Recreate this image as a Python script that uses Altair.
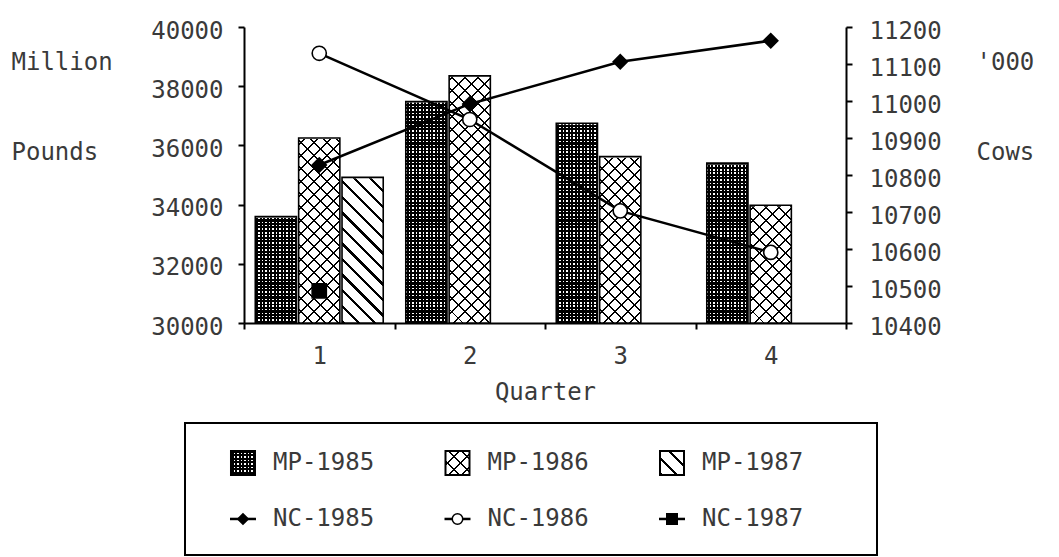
import math

import altair as alt
import pandas as pd

# ---- data -------------------------------------------------------------
quarters = [1, 2, 3, 4]

milk_series = ["MP-1985", "MP-1986", "MP-1987"]
mp_1985 = [33600, 37480, 36750, 35400]
mp_1986 = [36250, 38350, 35620, 33980]
mp_1987 = [34920]

cow_series = ["NC-1985", "NC-1986", "NC-1987"]
nc_1985 = [10827, 10992, 11106, 11163]
nc_1986 = [11129, 10950, 10703, 10591]
nc_1987 = [10487]

pounds_ticks = [30000, 32000, 34000, 36000, 38000, 40000]
cows_ticks = [10400, 10500, 10600, 10700, 10800, 10900, 11000, 11100, 11200]

milk = pd.DataFrame(
    [
        {"Quarter": q, "series": s, "pounds": v}
        for s, vals in zip(milk_series, [mp_1985, mp_1986, mp_1987])
        for q, v in zip(quarters, vals)
    ]
)
cows = pd.DataFrame(
    [
        {"Quarter": q, "series": s, "cows": v}
        for s, vals in zip(cow_series, [nc_1985, nc_1986, nc_1987])
        for q, v in zip(quarters, vals)
    ]
)
legend_items = pd.DataFrame(
    [
        {"label": lab, "col": i % 3, "row": i // 3}
        for i, lab in enumerate(milk_series + cow_series)
    ]
)

# ---- style ------------------------------------------------------------
FONT = "DejaVu Sans Mono"
FS = 24
INK = "#3a3a3a"
PLOT_W, PLOT_H = 602, 296
OFF_INNER, OFF_OUTER = 0.05, 0.26
LEGEND_INDENT = 59  # legend box starts this far left of the plot area

band = PLOT_W / len(quarters)
slot = band / (len(milk_series) - OFF_INNER + 2 * OFF_OUTER)
BAR_W = slot * (1 - OFF_INNER)
SWATCH = 24
CLEAR = "rgba(0,0,0,0)"


def hatch(kind, w, h, period, line_w, gap, phase=0.0):
    """Striped linear gradient laid over a w x h box (bounding-box units)."""
    if kind == "h":
        x1, y1, x2, y2, span = 0, 0, 0, 1, h
    elif kind == "v":
        x1, y1, x2, y2, span = 0, 0, 1, 0, w
    else:
        c = (w + h) / (w * w + h * h)
        span = (w + h) / math.sqrt(2)
        if kind == "down":  # lines running top-left to bottom-right
            x1, y1, x2, y2 = 0, 1, c * w, 1 - c * h
        else:  # lines running bottom-left to top-right
            x1, y1, x2, y2 = 0, 0, c * w, c * h
    stops = [{"offset": 0, "color": gap}]
    pos = phase
    while pos < span:
        a = pos / span
        b = min(pos + line_w, span) / span
        d = min(pos + period, span) / span
        stops += [
            {"offset": a, "color": gap},
            {"offset": a, "color": "black"},
            {"offset": b, "color": "black"},
            {"offset": b, "color": gap},
            {"offset": d, "color": gap},
        ]
        pos += period
    return {"gradient": "linear", "x1": x1, "y1": y1, "x2": x2, "y2": y2, "stops": stops}


def fills(w, h):
    return {
        "dots_base": hatch("v", w, h, 3.5, 2.0, "white", phase=1.0),
        "dots_over": hatch("h", w, h, 3.5, 2.0, CLEAR),
        "cross_base": hatch("down", w, h, 9.2, 1.3, "white"),
        "cross_over": hatch("up", w, h, 9.2, 1.3, CLEAR),
        "slant": hatch("down", w, h, 11.0, 2.4, "white"),
    }


bar_fill = fills(BAR_W, PLOT_H)
swatch_fill = fills(SWATCH, SWATCH)

# ---- shared encodings -------------------------------------------------
x_enc = alt.X(
    "Quarter:O",
    scale=alt.Scale(domain=quarters, paddingInner=0, paddingOuter=0),
    axis=alt.Axis(
        title="Quarter",
        labelAngle=0,
        tickBand="extent",
        tickSize=6,
        tickWidth=2,
        tickColor="black",
        domainColor="black",
        domainWidth=2,
        labelPadding=15,
        titleX=PLOT_W / 2,
        titleY=57,
        titleAlign="center",
        titleBaseline="top",
    ),
)
off_enc = alt.XOffset(
    "series:N",
    scale=alt.Scale(domain=milk_series, paddingInner=OFF_INNER, paddingOuter=OFF_OUTER),
)

pounds_scale = alt.Scale(domain=[30000, 40000], zero=False, nice=False)
pounds_axis = alt.Axis(
    values=pounds_ticks,
    format="d",
    tickSize=6,
    tickWidth=2,
    tickColor="black",
    domainColor="black",
    domainWidth=2,
    labelPadding=15,
    labelOffset=4,
    labelOverlap=False,
    title=["Million", "Pounds"],
    titleAngle=0,
    titleAlign="left",
    titleBaseline="top",
    titleX=-233,
    titleY=23,
    titleLineHeight=90,
)
cows_scale = alt.Scale(domain=[10400, 11200], zero=False, nice=False)
cows_axis = alt.Axis(
    orient="right",
    values=cows_ticks,
    format="d",
    tickSize=6,
    tickWidth=2,
    tickColor="black",
    domainColor="black",
    domainWidth=2,
    labelPadding=17,
    labelOffset=4,
    labelOverlap=False,
    title=["'000", "Cows"],
    titleAngle=0,
    titleAlign="left",
    titleBaseline="top",
    titleX=130,
    titleY=23,
    titleLineHeight=90,
)

y_full = alt.YDatum(40000, type="quantitative", scale=pounds_scale, axis=pounds_axis)
y_value = alt.Y("pounds:Q", scale=pounds_scale, axis=pounds_axis)


def pattern_layer(series, key):
    return (
        alt.Chart(milk)
        .transform_filter(alt.datum.series == series)
        .mark_bar(fill=bar_fill[key], strokeWidth=0)
        .encode(x=x_enc, xOffset=off_enc, y=y_full, y2=alt.Y2Datum(30000))
    )


bars = alt.layer(
    pattern_layer("MP-1985", "dots_base"),
    pattern_layer("MP-1985", "dots_over"),
    pattern_layer("MP-1986", "cross_base"),
    pattern_layer("MP-1986", "cross_over"),
    pattern_layer("MP-1987", "slant"),
    # blank out the pattern above each bar's value
    alt.Chart(milk)
    .mark_bar(fill="white", stroke="white", strokeWidth=2)
    .encode(x=x_enc, xOffset=off_enc, y=y_value, y2=alt.Y2Datum(40000)),
    # bar outlines
    alt.Chart(milk)
    .mark_bar(fillOpacity=0, stroke="black", strokeWidth=1.6)
    .encode(x=x_enc, xOffset=off_enc, y=y_value, y2=alt.Y2Datum(30000)),
)

y_cows = alt.Y("cows:Q", scale=cows_scale, axis=cows_axis)
shape_scale = alt.Scale(domain=cow_series, range=["diamond", "circle", "square"])
fill_scale = alt.Scale(domain=cow_series, range=["black", "white", "black"])

lines = alt.layer(
    alt.Chart(cows)
    .mark_line(color="black", strokeWidth=2.5)
    .encode(x=x_enc, y=y_cows, detail="series:N"),
    alt.Chart(cows)
    .mark_point(filled=True, size=200, stroke="black", strokeWidth=1.6, opacity=1)
    .encode(
        x=x_enc,
        y=y_cows,
        shape=alt.Shape("series:N", scale=shape_scale, legend=None),
        fill=alt.Fill("series:N", scale=fill_scale, legend=None),
    ),
)

top = (
    alt.layer(bars, lines)
    .resolve_scale(y="independent")
    .properties(width=PLOT_W, height=PLOT_H)
)

# empty left cell that pushes the plot area right of the legend's left edge
gutter = (
    alt.Chart(pd.DataFrame({"k": [0]}))
    .mark_point(opacity=0)
    .encode(x=alt.value(0), y=alt.value(0))
    .properties(width=1, height=PLOT_H)
)
top_row = alt.hconcat(gutter, top, spacing=LEGEND_INDENT - 1, bounds="flush")

# ---- legend box -------------------------------------------------------
lx = alt.X(
    "col:O",
    scale=alt.Scale(type="point", domain=[0, 1, 2], padding=0.613, align=0.2205),
    axis=None,
)
ly = alt.Y(
    "row:O",
    scale=alt.Scale(type="point", domain=[0, 1], padding=0.679, align=0.526),
    axis=None,
)


def swatch_layer(series, key):
    return (
        alt.Chart(legend_items)
        .transform_filter(alt.datum.label == series)
        .mark_square(size=SWATCH * SWATCH, fill=swatch_fill[key], strokeWidth=0, opacity=1)
        .encode(x=lx, y=ly)
    )


legend = alt.layer(
    swatch_layer("MP-1985", "dots_base"),
    swatch_layer("MP-1985", "dots_over"),
    swatch_layer("MP-1986", "cross_base"),
    swatch_layer("MP-1986", "cross_over"),
    swatch_layer("MP-1987", "slant"),
    alt.Chart(legend_items)
    .transform_filter(alt.datum.row == 0)
    .mark_square(size=SWATCH * SWATCH, filled=False, stroke="black", strokeWidth=2, opacity=1)
    .encode(x=lx, y=ly),
    alt.Chart(legend_items)
    .transform_filter(alt.datum.row == 1)
    .mark_point(shape="M-1,0H1", size=26 * 26, filled=False, stroke="black", strokeWidth=2.5, opacity=1)
    .encode(x=lx, y=ly),
    alt.Chart(legend_items)
    .transform_filter(alt.datum.row == 1)
    .mark_point(filled=True, size=110, stroke="black", strokeWidth=1.5, opacity=1)
    .encode(
        x=lx,
        y=ly,
        shape=alt.Shape("label:N", scale=shape_scale, legend=None),
        fill=alt.Fill("label:N", scale=fill_scale, legend=None),
    ),
    alt.Chart(legend_items)
    .mark_text(align="left", baseline="middle", dx=30, font=FONT, fontSize=FS, color=INK)
    .encode(x=lx, y=ly, text="label:N"),
).properties(
    width=692,
    height=132,
    view=alt.ViewBackground(stroke="black", strokeWidth=2),
)

chart = (
    alt.vconcat(top_row, legend, spacing=17)
    .properties(padding={"left": 10, "top": 18, "right": 5, "bottom": 2})
    .configure_view(stroke="transparent")
    .configure_axis(
        grid=False,
        labelFont=FONT,
        labelFontSize=FS,
        labelColor=INK,
        titleFont=FONT,
        titleFontSize=FS,
        titleColor=INK,
        titleFontWeight="normal",
    )
)

chart.save("out.html", embed_options={"renderer": "svg", "actions": False})
